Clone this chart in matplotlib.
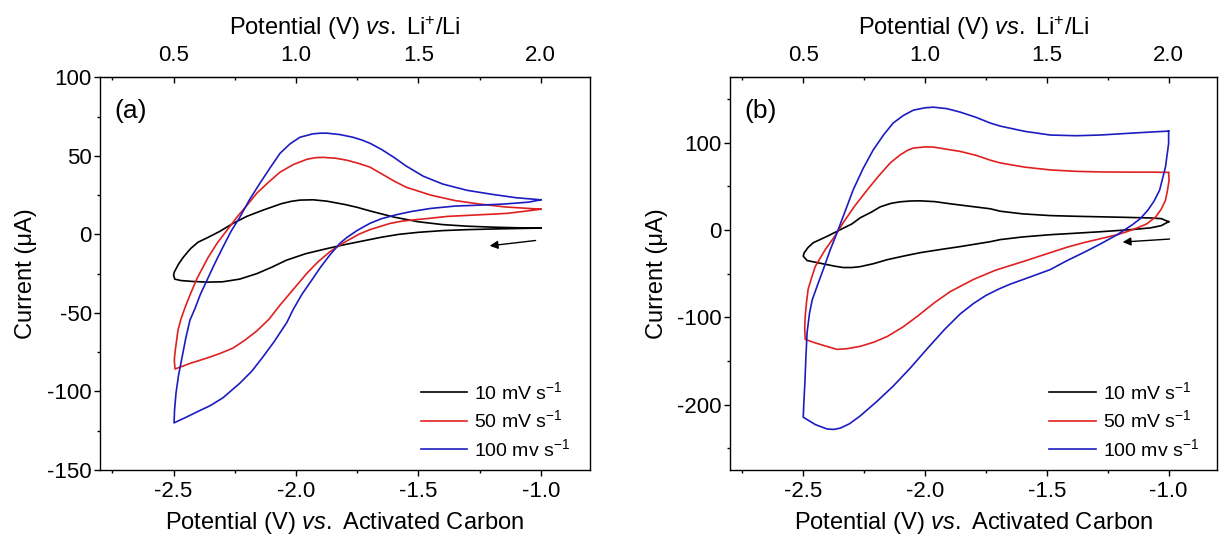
import matplotlib
matplotlib.use('Agg')
import matplotlib.pyplot as plt
from matplotlib.ticker import MultipleLocator, AutoMinorLocator, FixedLocator

plt.rcParams['font.family'] = ['Liberation Sans', 'DejaVu Sans']
plt.rcParams['mathtext.fontset'] = 'custom'
plt.rcParams['mathtext.rm'] = 'Liberation Sans'
plt.rcParams['mathtext.it'] = 'Liberation Sans:italic'
plt.rcParams['axes.unicode_minus'] = False

# ---- data (potential vs AC in V, current in uA) ----
labels = ['10 mV s$^{-1}$', '50 mV s$^{-1}$', '100 mv s$^{-1}$']
colors = ['black', '#e02020', '#1c1cc0']

# panel (a)
a10_x = [-1.00, -1.10, -1.20, -1.30, -1.40, -1.50, -1.58, -1.65, -1.72, -1.80, -1.88, -1.96, -2.04, -2.10,
         -2.16, -2.23, -2.30, -2.36, -2.42, -2.47, -2.495, -2.500, -2.497, -2.48, -2.46, -2.43, -2.40, -2.36,
         -2.31, -2.257, -2.20, -2.135, -2.06, -2.02, -1.984, -1.93, -1.873, -1.80, -1.75, -1.70, -1.60, -1.50,
         -1.40, -1.30, -1.20, -1.10, -1.00]
a10_y = [4.0, 3.7, 3.4, 3.0, 2.4, 1.3, 0.0, -1.8, -4.0, -6.5, -9.3, -12.3, -16.5, -21.0,
         -25.0, -28.5, -30.2, -30.4, -30.0, -29.4, -28.5, -26.0, -24.0, -19.0, -14.5, -9.0, -5.0, -2.0,
         2.0, 7.0, 11.5, 15.4, 19.5, 21.0, 21.8, 22.0, 21.1, 19.0, 17.2, 15.0, 11.0, 8.0,
         6.2, 5.2, 4.6, 4.2, 4.0]

a50_x = [-1.00, -1.05, -1.135, -1.18, -1.295, -1.384, -1.455, -1.563, -1.615, -1.698, -1.744, -1.808, -1.861,
         -1.91, -1.955, -2.00, -2.065, -2.11, -2.16, -2.21, -2.257, -2.31, -2.363, -2.43, -2.494,
         -2.497, -2.494, -2.488, -2.482, -2.47, -2.453, -2.43, -2.404, -2.36, -2.322, -2.28, -2.241, -2.20,
         -2.16, -2.11, -2.065, -2.01, -1.955, -1.92, -1.89, -1.84, -1.792, -1.745, -1.698, -1.65, -1.60,
         -1.55, -1.45, -1.35, -1.25, -1.15, -1.05, -1.00]
a50_y = [16.0, 15.0, 13.4, 13.0, 12.1, 11.4, 10.2, 8.5, 7.0, 3.0, 0.0, -5.6, -11.0,
         -17.5, -24.7, -33.0, -45.0, -54.0, -61.5, -67.5, -72.4, -75.8, -78.7, -82.0, -85.7,
         -80.0, -75.0, -68.0, -61.0, -54.0, -46.5, -37.5, -28.0, -15.0, -5.6, 3.0, 11.0, 18.5,
         26.2, 33.5, 39.6, 44.5, 47.8, 48.8, 49.0, 48.5, 47.2, 45.2, 42.8, 38.5, 34.0,
         30.0, 25.0, 21.5, 19.3, 17.5, 16.5, 16.0]

a100_x = [-1.00, -1.05, -1.15, -1.25, -1.35, -1.45, -1.53, -1.59, -1.65, -1.698, -1.75, -1.792, -1.82,
          -1.861, -1.90, -1.935, -1.975, -2.012, -2.037, -2.09, -2.135, -2.18, -2.229, -2.298, -2.35, -2.404,
          -2.45, -2.498, -2.496, -2.49, -2.48, -2.465, -2.45, -2.433, -2.412, -2.39, -2.363, -2.33, -2.298,
          -2.265, -2.229, -2.19, -2.147, -2.105, -2.065, -2.025, -1.984, -1.93, -1.90, -1.873, -1.82, -1.767,
          -1.73, -1.698, -1.65, -1.60, -1.55, -1.48, -1.40, -1.30, -1.20, -1.10, -1.00]
a100_y = [22.0, 20.5, 19.3, 18.6, 18.0, 16.5, 14.5, 12.5, 10.0, 7.0, 2.5, -2.0, -5.6,
          -13.0, -21.0, -29.0, -38.0, -48.0, -56.0, -68.5, -78.0, -87.0, -94.7, -104.0, -109.0, -113.0,
          -116.5, -120.0, -112.0, -101.0, -90.0, -78.0, -66.0, -54.6, -47.0, -38.0, -29.0, -18.0, -8.0,
          2.0, 11.0, 22.0, 32.6, 42.5, 51.6, 57.5, 61.8, 64.0, 64.4, 64.4, 63.5, 61.8,
          60.0, 58.0, 54.0, 49.0, 43.5, 37.0, 32.0, 28.0, 25.5, 23.3, 22.0]

# panel (b)
b10_x = [-1.00, -1.03, -1.075, -1.15, -1.28, -1.40, -1.486, -1.60, -1.691, -1.732, -1.80, -1.855, -1.94,
         -2.02, -2.09, -2.155, -2.21, -2.266, -2.30, -2.336, -2.37, -2.402, -2.45, -2.484, -2.500, -2.496,
         -2.48, -2.459, -2.40, -2.348, -2.30, -2.266, -2.22, -2.184, -2.14, -2.102, -2.06, -2.02, -1.96,
         -1.896, -1.81, -1.732, -1.691, -1.60, -1.486, -1.38, -1.28, -1.18, -1.075, -1.03, -1.00]
b10_y = [9.5, 5.0, 2.4, 0.5, -2.0, -4.0, -5.4, -8.0, -11.0, -13.4, -16.5, -19.0, -22.5,
         -26.0, -30.0, -34.0, -38.5, -42.0, -43.0, -43.0, -41.5, -39.7, -37.0, -35.0, -30.0, -26.0,
         -20.0, -14.6, -7.0, 0.3, 7.0, 14.0, 20.5, 26.5, 30.5, 32.3, 33.2, 33.4, 32.5,
         30.0, 27.0, 24.3, 21.5, 18.5, 16.5, 15.7, 15.1, 14.5, 13.8, 13.0, 9.5]

b50_x = [-1.00, -0.998, -1.005, -1.013, -1.03, -1.053, -1.09, -1.129, -1.17, -1.211, -1.28, -1.35, -1.42,
         -1.486, -1.59, -1.71, -1.80, -1.896, -1.96, -2.032, -2.09, -2.155, -2.21, -2.266, -2.32, -2.361,
         -2.42, -2.46, -2.492, -2.494, -2.492, -2.487, -2.48, -2.466, -2.451, -2.41, -2.37, -2.336, -2.29,
         -2.237, -2.19, -2.143, -2.10, -2.07, -2.048, -2.00, -1.966, -1.90, -1.855, -1.79, -1.732, -1.691,
         -1.59, -1.486, -1.38, -1.28, -1.15, -1.075, -1.00]
b50_y = [65.4, 57.0, 45.0, 34.0, 24.0, 15.0, 7.0, 2.4, -1.8, -5.4, -10.0, -14.6, -20.0,
         -26.0, -35.5, -46.0, -56.5, -70.5, -83.0, -99.0, -111.0, -122.0, -128.5, -133.3, -136.0, -136.8,
         -132.0, -128.5, -125.3, -112.0, -99.0, -84.0, -68.0, -55.0, -42.0, -22.6, -7.0, 8.3, 27.0,
         46.0, 62.0, 76.8, 86.5, 91.5, 93.9, 95.2, 95.0, 92.0, 90.0, 85.5, 80.0, 76.8,
         72.0, 68.8, 67.2, 66.5, 66.3, 66.3, 66.0]

b100_x = [-1.00, -1.00, -1.013, -1.037, -1.06, -1.085, -1.116, -1.149, -1.211, -1.28, -1.35, -1.42, -1.486,
          -1.59, -1.65, -1.70, -1.75, -1.80, -1.855, -1.92, -1.991, -2.06, -2.131, -2.20, -2.266, -2.31,
          -2.348, -2.375, -2.402, -2.45, -2.500, -2.497, -2.493, -2.489, -2.484, -2.474, -2.463, -2.44, -2.418,
          -2.389, -2.361, -2.33, -2.295, -2.255, -2.213, -2.17, -2.131, -2.09, -2.048, -2.00, -1.966, -1.91,
          -1.855, -1.79, -1.732, -1.691, -1.59, -1.486, -1.38, -1.28, -1.18, -1.088, -1.00]
b100_y = [113.3, 99.0, 72.0, 45.6, 33.0, 22.8, 13.0, 6.0, -5.4, -16.0, -26.0, -35.5, -45.4,
          -56.0, -62.0, -68.0, -75.0, -84.0, -96.0, -114.0, -136.0, -158.0, -179.0, -197.0, -213.0, -222.0,
          -227.0, -228.5, -228.0, -223.0, -214.5, -195.0, -174.0, -145.0, -117.0, -95.0, -80.0, -62.0, -45.4,
          -22.6, -3.0, 20.0, 46.0, 70.0, 91.6, 109.0, 122.5, 131.0, 137.3, 140.0, 140.7, 139.0,
          135.0, 129.0, 122.5, 119.0, 113.0, 108.8, 108.0, 108.8, 110.5, 112.0, 113.3]

# scan direction arrows (tail, head)
a_arrow = [(-1.01, -3.7), (-1.22, -7.5)]
b_arrow = [(-0.985, -10.2), (-1.20, -14.0)]

top_ticks = [0.5, 1.0, 1.5, 2.0]
top_minor = [0.25, 0.75, 1.25, 1.75]

panels = [
    dict(tag='(a)', series=[(a10_x, a10_y), (a50_x, a50_y), (a100_x, a100_y)],
         ylim=(-150, 100), ystep=50, arrow=a_arrow, rect=[0.082, 0.136, 0.401, 0.722]),
    dict(tag='(b)', series=[(b10_x, b10_y), (b50_x, b50_y), (b100_x, b100_y)],
         ylim=(-275, 175), ystep=100, arrow=b_arrow, rect=[0.598, 0.136, 0.399, 0.722]),
]

fig = plt.figure(figsize=(12.21, 5.44), dpi=100)

for p in panels:
    ax = fig.add_axes(p['rect'])
    for (x, y), lab, c in zip(p['series'], labels, colors):
        ax.plot(x, y, color=c, lw=1.2, label=lab, solid_joinstyle='round')

    ax.set_xlim(-2.8, -0.8)
    ax.set_ylim(*p['ylim'])
    ax.xaxis.set_major_locator(MultipleLocator(0.5))
    ax.xaxis.set_minor_locator(MultipleLocator(0.25))
    ax.yaxis.set_major_locator(MultipleLocator(p['ystep']))
    ax.yaxis.set_minor_locator(AutoMinorLocator(2))
    ax.xaxis.set_major_formatter(lambda v, pos: '%.1f' % v)
    ax.tick_params(which='both', direction='out', top=False, right=False, labelsize=16, width=1.0)
    ax.tick_params(which='major', length=4.5)
    ax.tick_params(which='minor', length=2.2)
    ax.tick_params(axis='y', pad=1.5)
    for s in ax.spines.values():
        s.set_linewidth(1.0)

    sec = ax.secondary_xaxis('top', functions=(lambda v: v + 3.0, lambda v: v - 3.0))
    sec.xaxis.set_major_locator(FixedLocator(top_ticks))
    sec.xaxis.set_minor_locator(FixedLocator(top_minor))
    sec.xaxis.set_major_formatter(lambda v, pos: '%.1f' % v)
    sec.tick_params(which='both', direction='in', labelsize=16, width=1.0, pad=8)
    sec.tick_params(which='major', length=4.5)
    sec.tick_params(which='minor', length=2.2)
    sec.set_xlabel('Potential (V) $\\it{vs.}$ Li$^{+}$/Li', fontsize=17, labelpad=7)

    ax.set_xlabel('Potential (V) $\\it{vs.}$ Activated Carbon', fontsize=17, labelpad=6)
    ax.set_ylabel('Current (\u03bcA)', fontsize=17)
    ax.yaxis.set_label_coords(-0.128, 0.5)

    ax.text(0.03, 0.915, p['tag'], transform=ax.transAxes, fontsize=19, va='center', ha='left')

    (tx, ty), (hx, hy) = p['arrow']
    ax.annotate('', xy=(hx, hy), xytext=(tx, ty),
                arrowprops=dict(arrowstyle='-|>', color='black', lw=1.0, mutation_scale=12))

    ax.legend(loc='lower left', bbox_to_anchor=(0.655, 0.025), frameon=False, fontsize=14,
              handlelength=2.4, handletextpad=0.35, labelspacing=0.35, borderpad=0, borderaxespad=0)

fig.savefig('out.png', dpi=100)
